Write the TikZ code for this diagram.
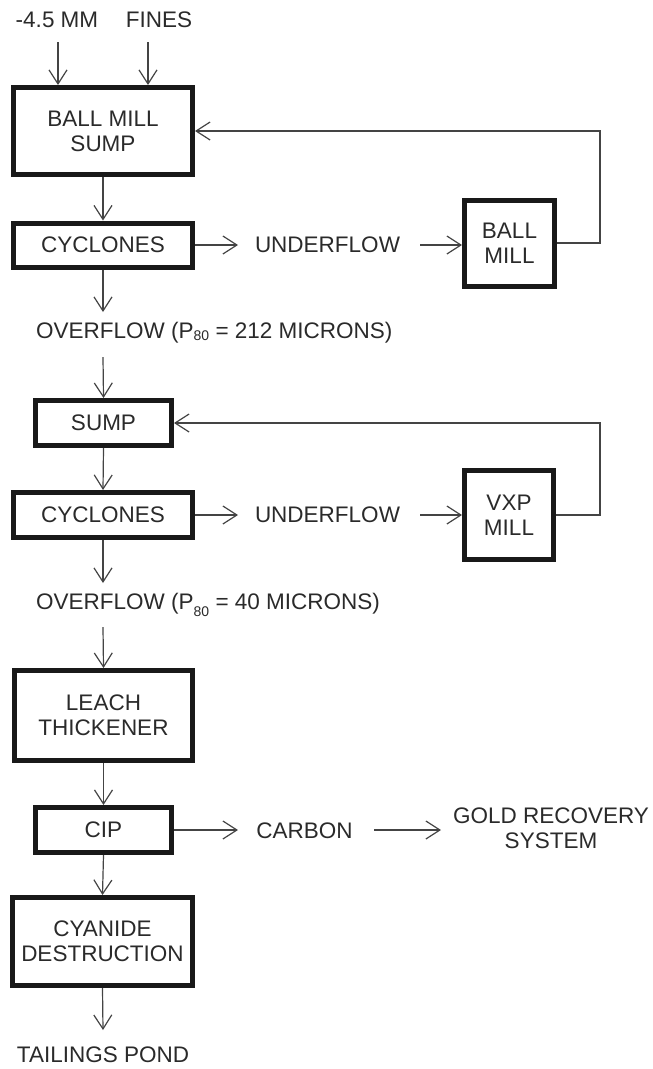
\documentclass[tikz,border=0pt]{standalone}
\usepackage{fontspec}
\setmainfont{Liberation Sans}
\usetikzlibrary{arrows.meta}
\definecolor{txt}{HTML}{2A2A2A}
\definecolor{ln}{HTML}{444444}
\begin{document}
\begin{tikzpicture}[x=1pt,y=-1pt,
  font=\fontsize{22.5}{25}\selectfont, text=txt,
  box/.style={draw=black!90, line width=5pt, inner sep=0pt, align=center, fill=white},
  lbl/.style={inner sep=0pt, align=center},
  arr/.style={draw=ln, line width=1.2pt, -{Straight Barb[length=14pt,width=18pt,line width=1.2pt]}},
  ln/.style={draw=ln, line width=1.2pt}]
\path[use as bounding box] (0,0) rectangle (653,1069);

% boxes
\node[box, minimum width=179pt, minimum height=87pt] (bms) at (103,131) {BALL MILL\\SUMP};
\node[box, minimum width=179pt, minimum height=44pt] (cyc1) at (103,245) {CYCLONES};
\node[box, minimum width=90pt, minimum height=86pt] (bm) at (509.5,243) {BALL\\MILL};
\node[box, minimum width=136pt, minimum height=45pt] (sump) at (103.5,423) {SUMP};
\node[box, minimum width=179pt, minimum height=45pt] (cyc2) at (103,515) {CYCLONES};
\node[box, minimum width=89pt, minimum height=89pt] (vxp) at (509,515) {VXP\\MILL};
\node[box, minimum width=178pt, minimum height=90pt] (leach) at (103.5,715.5) {LEACH\\THICKENER};
\node[box, minimum width=136pt, minimum height=45pt] (cip) at (103.5,830) {CIP};
\node[box, minimum width=180pt, minimum height=88pt] (cn) at (102.5,941.5) {CYANIDE\\DESTRUCTION};

% labels
\node[lbl] (in1) at (57,20) {-4.5 MM};
\node[lbl] (in2) at (159,20) {FINES};
\node[lbl] (uf1) at (327.5,245) {UNDERFLOW};
\node[lbl] (uf2) at (327.5,515) {UNDERFLOW};
\node[lbl, anchor=west] (of1) at (36,333) {OVERFLOW (P{\fontsize{14}{14}\selectfont\raisebox{-1.5pt}{80}} = 212 MICRONS)};
\node[lbl, anchor=west] (of2) at (36,605) {OVERFLOW (P{\fontsize{14}{14}\selectfont\raisebox{-7pt}{80}} = 40 MICRONS)};
\node[lbl] (carb) at (304.5,831) {CARBON};
\node[lbl] (gold) at (551,828) {GOLD RECOVERY\\SYSTEM};
\node[lbl] (tail) at (103,1055) {TAILINGS POND};

% free ends
\coordinate (a1) at (58,42);
\coordinate (a2) at (148,42);
\coordinate (o1t) at (103,312);
\coordinate (o1b) at (103,357);
\coordinate (o2t) at (103,583);
\coordinate (o2b) at (103,627);
\coordinate (u1a) at (238,245);
\coordinate (u1b) at (420,245);
\coordinate (u2a) at (238,515);
\coordinate (u2b) at (420,515);
\coordinate (fb1) at (600,131);
\coordinate (fb2) at (600,423);
\coordinate (ca) at (238,830);
\coordinate (cb) at (374,830);
\coordinate (cc) at (441,830);
\coordinate (tp) at (103,1030);

% connectors
\draw[arr] (a1) -- (a1 |- bms.north);
\draw[arr] (a2) -- (a2 |- bms.north);
\draw[arr] (bms.south) -- (cyc1.north);
\draw[arr] (cyc1.east) -- (u1a);
\draw[arr] (u1b) -- (u1b -| bm.west);
\draw[arr] (bm.east) -| (fb1) -- (bms.east);
\draw[arr] (cyc1.south) -- (o1t);
\draw[arr] (o1b) -- (sump.north);
\draw[arr] (sump.south) -- (cyc2.north);
\draw[arr] (cyc2.east) -- (u2a);
\draw[arr] (u2b) -- (u2b -| vxp.west);
\draw[arr] (vxp.east) -| (fb2) -- (sump.east);
\draw[arr] (cyc2.south) -- (o2t);
\draw[arr] (o2b) -- (leach.north);
\draw[arr] (leach.south) -- (cip.north);
\draw[arr] (cip.east) -- (ca);
\draw[arr] (cb) -- (cc);
\draw[arr] (cip.south) -- (cn.north);
\draw[arr] (cn.south) -- (tp);
\end{tikzpicture}
\end{document}
